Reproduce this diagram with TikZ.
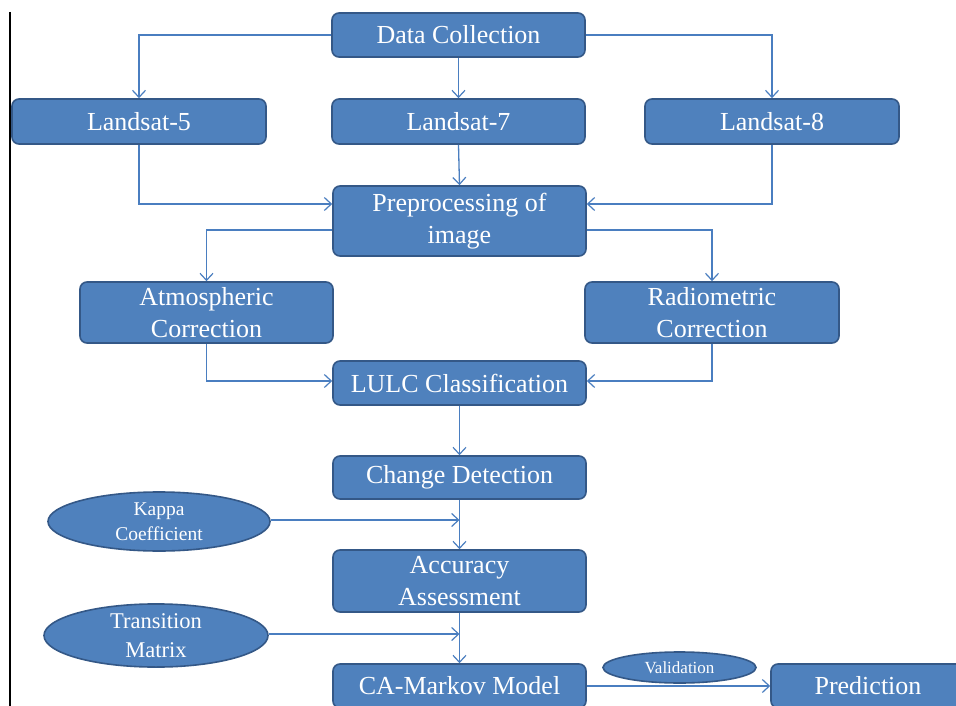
\documentclass[tikz,border=0pt]{standalone}
\usepackage{fontspec}
\setmainfont{Liberation Serif}
\usetikzlibrary{arrows.meta,shapes.geometric}
\definecolor{boxfill}{RGB}{79,129,189}
\definecolor{boxedge}{RGB}{52,88,135}
\definecolor{linec}{RGB}{74,126,192}
\tikzset{
  box/.style={rectangle, rounded corners=7pt, fill=boxfill, draw=boxedge, line width=1.6pt,
    text=white, align=center, inner sep=0pt, font=\fontsize{26}{32}\selectfont},
  oval/.style={ellipse, fill=boxfill, draw=boxedge, line width=1.6pt, text=white, align=center, inner sep=0pt},
  arr/.style={draw=linec, line width=1.3pt, -{Straight Barb[length=7pt,width=13pt,line width=1.2pt]}},
  ln/.style={draw=linec, line width=1.3pt}
}
\begin{document}
\begin{tikzpicture}[x=1pt,y=-1pt]
\useasboundingbox (0,0) rectangle (956,706);
\fill[white] (0,0) rectangle (956,706);
\draw[line width=2pt, black] (10,12) -- (10,706);

\node[box, minimum width=253pt, minimum height=44pt] (dc) at (458.5,35) {Data Collection};
\node[box, minimum width=254pt, minimum height=45pt] (l5) at (139,121.5) {Landsat-5};
\node[box, minimum width=253pt, minimum height=45pt] (l7) at (458.5,121.5) {Landsat-7};
\node[box, minimum width=254pt, minimum height=45pt] (l8) at (772,121.5) {Landsat-8};
\node[box, minimum width=253pt, minimum height=70pt] (pre) at (459.5,221) {Preprocessing of\\image};
\node[box, minimum width=253pt, minimum height=61pt] (atm) at (206.5,312.5) {Atmospheric\\Correction};
\node[box, minimum width=254pt, minimum height=61pt] (rad) at (712,312.5) {Radiometric\\Correction};
\node[box, minimum width=253pt, minimum height=44pt] (lulc) at (459.5,383) {LULC Classification};
\node[box, minimum width=253pt, minimum height=43pt] (cd) at (459.5,477.5) {Change Detection};
\node[box, minimum width=253pt, minimum height=62pt] (acc) at (459.5,581) {Accuracy\\Assessment};
\node[box, minimum width=253pt, minimum height=44pt] (ca) at (459.5,686) {CA-Markov Model};
\node[box, minimum width=194pt, minimum height=44pt] (pred) at (868,686) {Prediction};

\node[oval, minimum width=222pt, minimum height=59pt, font=\fontsize{19.5}{25}\selectfont] (kap) at (159,521.5) {Kappa\\Coefficient};
\node[oval, minimum width=224pt, minimum height=59pt, font=\fontsize{22.5}{29.5}\selectfont] (tm) at (156,635.5) {Transition\\Matrix};
\node[oval, minimum width=153pt, minimum height=31pt, font=\fontsize{17}{20}\selectfont] (val) at (679.5,667.5) {Validation};

\draw[arr] (dc.west) -| (l5.north);
\draw[arr] (dc.east) -| (l8.north);
\draw[arr] (dc.south) -- (l7.north);
\draw[arr] (l5.south) |- ([yshift=17pt]pre.west);
\draw[arr] (l8.south) |- ([yshift=17pt]pre.east);
\draw[arr] (l7.south) -- (pre.north);
\draw[arr] ([yshift=-9pt]pre.west) -| (atm.north);
\draw[arr] ([yshift=-9pt]pre.east) -| (rad.north);
\draw[arr] (atm.south) |- ([yshift=2pt]lulc.west);
\draw[arr] (rad.south) |- ([yshift=2pt]lulc.east);
\draw[arr] (lulc.south) -- (cd.north);
\draw[arr] (cd.south) -- (acc.north);
\draw[arr] ([yshift=1.5pt]kap.east) -- ([yshift=1.5pt]cd.south |- kap.east);
\draw[arr] ([yshift=1.5pt]tm.east) -- ([yshift=1.5pt]acc.south |- tm.east);
\draw[arr] (acc.south) -- (ca.north);
\draw[arr] (ca.east) -- (pred.west);
\end{tikzpicture}
\end{document}
